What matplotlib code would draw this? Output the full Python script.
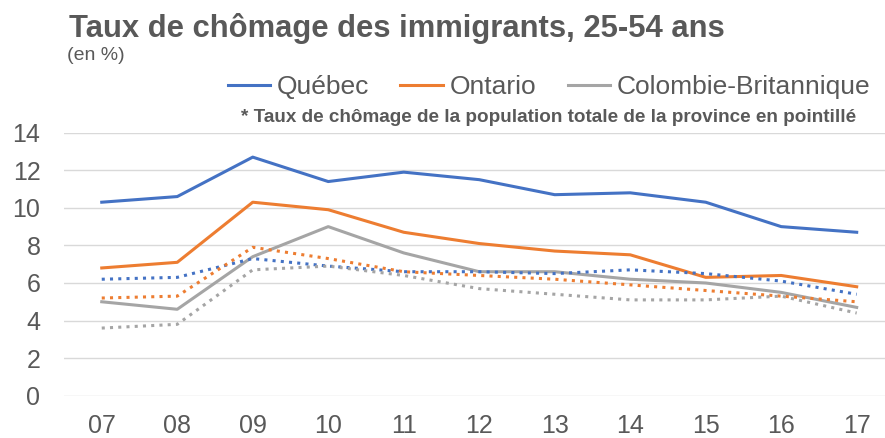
import matplotlib
matplotlib.use("Agg")
import matplotlib.pyplot as plt

plt.rcParams['font.family'] = ['Liberation Sans', 'DejaVu Sans']

years = ['07', '08', '09', '10', '11', '12', '13', '14', '15', '16', '17']

# immigrants 25-54 (solid)
quebec = [10.3, 10.6, 12.7, 11.4, 11.9, 11.5, 10.7, 10.8, 10.3, 9.0, 8.7]
ontario = [6.8, 7.1, 10.3, 9.9, 8.7, 8.1, 7.7, 7.5, 6.3, 6.4, 5.8]
cb = [5.0, 4.6, 7.4, 9.0, 7.6, 6.6, 6.6, 6.2, 6.0, 5.5, 4.7]

# population totale (pointillé)
quebec_tot = [6.2, 6.3, 7.3, 6.9, 6.6, 6.6, 6.5, 6.7, 6.5, 6.1, 5.4]
ontario_tot = [5.2, 5.3, 7.9, 7.3, 6.6, 6.4, 6.2, 5.9, 5.6, 5.3, 5.0]
cb_tot = [3.6, 3.8, 6.7, 6.9, 6.4, 5.7, 5.4, 5.1, 5.1, 5.3, 4.4]

blue = '#4472C4'
orange = '#ED7D31'
grey = '#A5A5A5'
txt = '#595959'

fig = plt.figure(figsize=(8.85, 4.38), dpi=100)
ax = fig.add_axes([64/885, 42.3/438, (885-64)/885, 263/438])

x = range(len(years))
dot = (0, (1, 1.7))
l1, = ax.plot(x, quebec, color=blue, lw=2.2, label='Québec')
l2, = ax.plot(x, ontario, color=orange, lw=2.2, label='Ontario')
l3, = ax.plot(x, cb, color=grey, lw=2.2, label='Colombie-Britannique')
ax.plot(x, quebec_tot, color=blue, lw=2.2, ls=dot)
ax.plot(x, ontario_tot, color=orange, lw=2.2, ls=dot)
ax.plot(x, cb_tot, color=grey, lw=2.2, ls=dot)

ax.set_xlim(-0.5, (885-101.7)/75.5)
ax.set_ylim(0, 14)
ax.set_yticks(range(0, 15, 2))
ax.set_xticks(list(x))
ax.set_xticklabels(years)
ax.grid(axis='y', color='#D9D9D9', lw=1)
ax.set_axisbelow(True)
for s in ax.spines.values():
    s.set_visible(False)
ax.tick_params(length=0, labelsize=18, labelcolor=txt)
ax.tick_params(axis='y', pad=17)
ax.tick_params(axis='x', pad=13)

fig.text(69/885, 1 - 28/438, 'Taux de chômage des immigrants, 25-54 ans',
         fontsize=22.3, fontweight='bold', color=txt, va='center', ha='left')
fig.text(67/885, 1 - 56/438, '(en %)', fontsize=14, color=txt, va='center', ha='left')

fig.legend(handles=[l1, l2, l3], loc='center right', bbox_to_anchor=(870/885, 1 - 87/438),
           ncol=3, frameon=False, fontsize=19, handlelength=1.6, handletextpad=0.25,
           columnspacing=1.2, labelcolor=txt, borderaxespad=0, borderpad=0)
fig.text(549/885, 1 - 118/438,
         '* Taux de chômage de la population totale de la province en pointillé',
         fontsize=13.6, fontweight='bold', color=txt, va='center', ha='center')

fig.savefig('out.png', dpi=100)
